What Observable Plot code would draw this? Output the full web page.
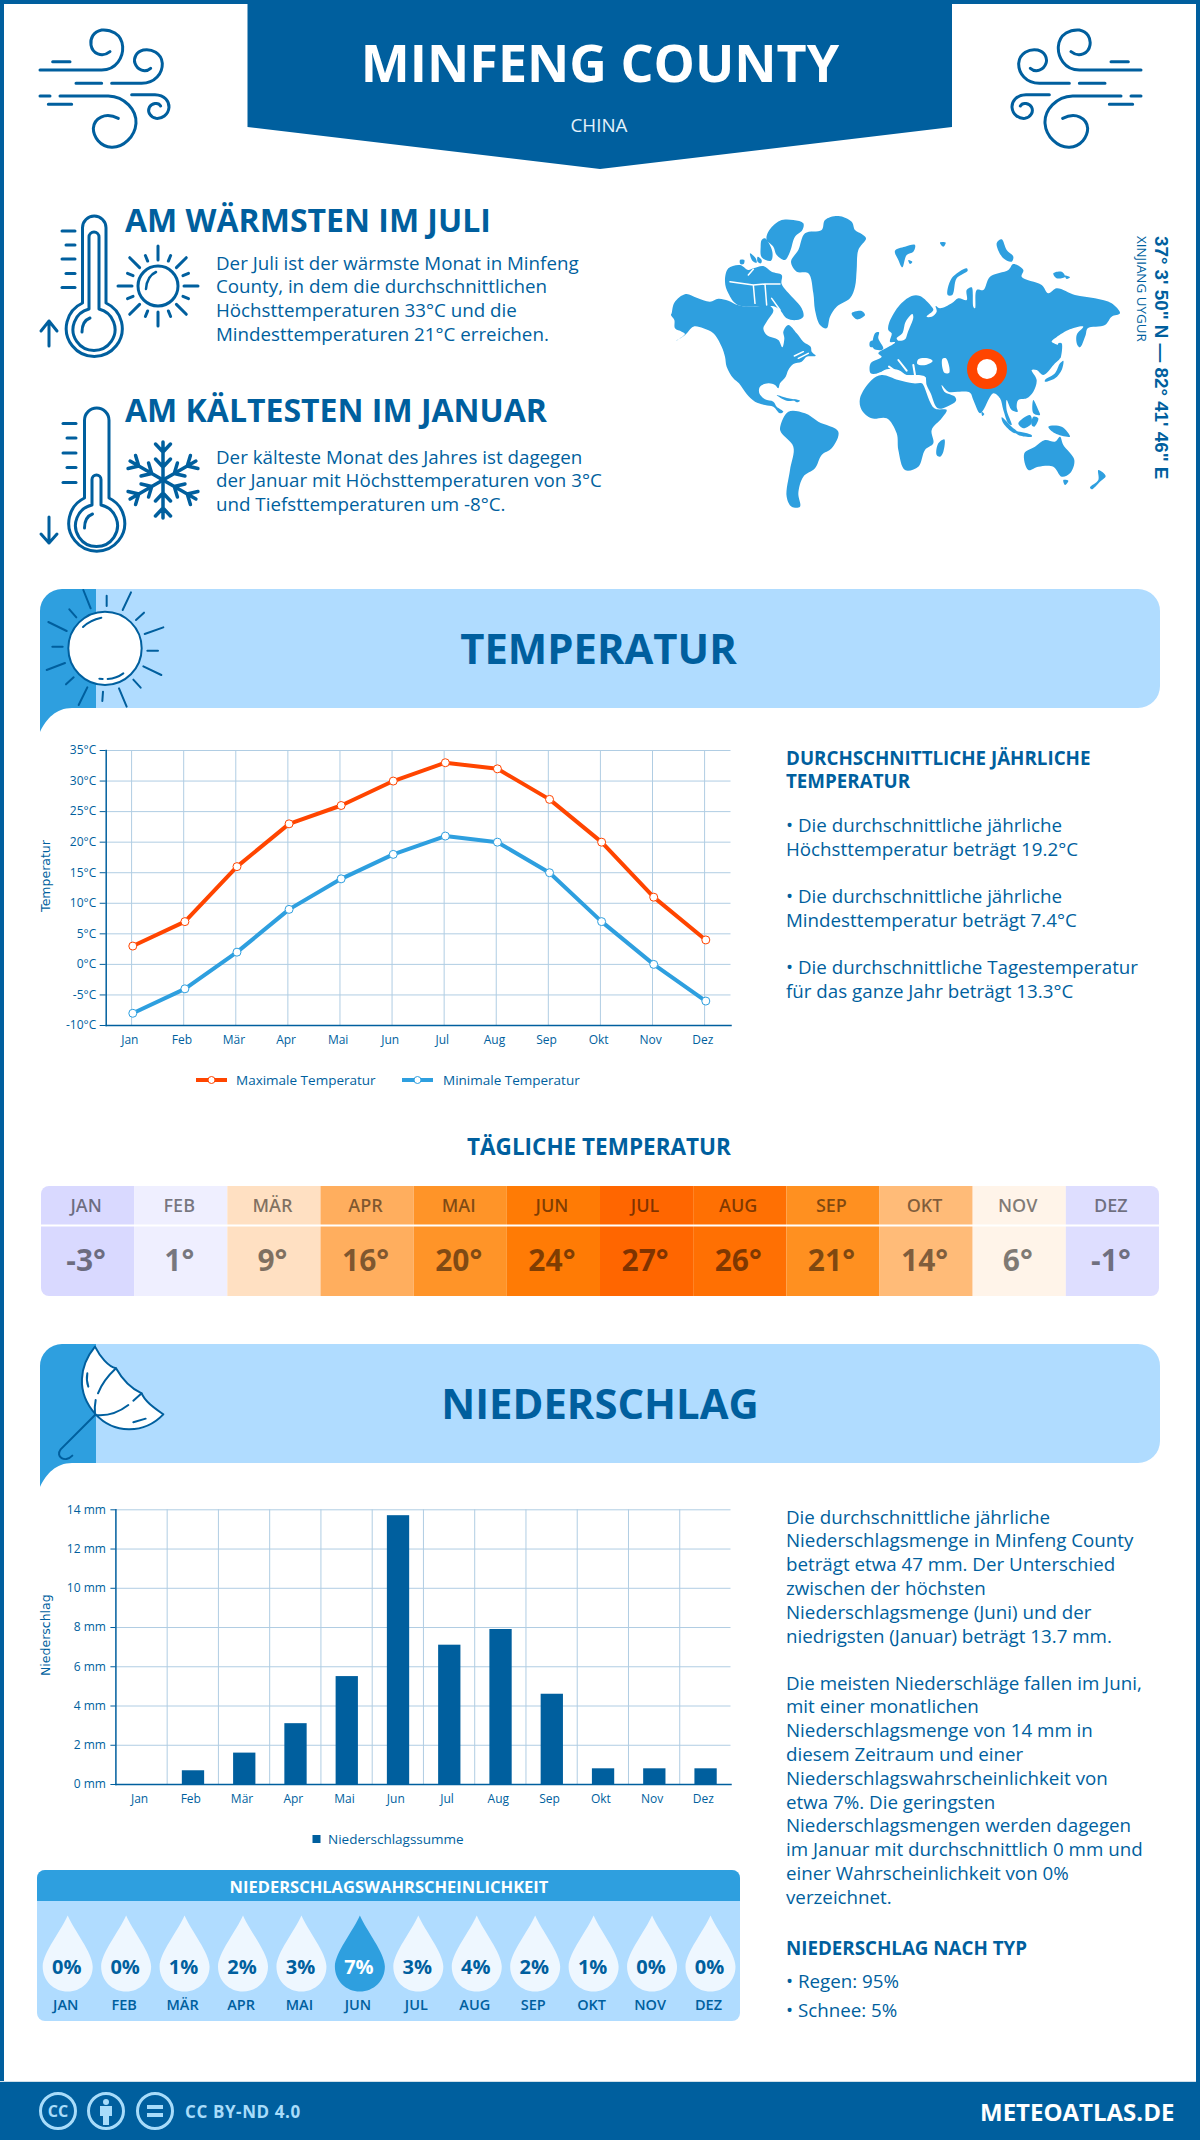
<!DOCTYPE html>
<html lang="de">
<head>
<meta charset="utf-8">
<title>Minfeng County</title>
<script src="https://cdn.jsdelivr.net/npm/d3@7"></script>
<script src="https://cdn.jsdelivr.net/npm/@observablehq/plot@0.6"></script>
<style>
html,body{margin:0;padding:0;background:#fff}
#page{position:relative;width:1200px;height:2140px;overflow:hidden;background:#fff;font-family:"Open Sans",sans-serif}
#page>svg,#page>div{position:absolute}
#deco{left:0;top:0;z-index:0}
.chart{z-index:1}
.chart svg{display:block;background:transparent;overflow:visible}
</style>
</head>
<body>
<div id="page"><svg id="deco" width="1200" height="2140" viewBox="0 0 1200 2140" xmlns="http://www.w3.org/2000/svg"></svg></div>
<script>
// ---- data ----
const months = ["Jan","Feb","Mär","Apr","Mai","Jun","Jul","Aug","Sep","Okt","Nov","Dez"];
const monthsUpper = ["JAN","FEB","MÄR","APR","MAI","JUN","JUL","AUG","SEP","OKT","NOV","DEZ"];
const tempMax = [3,7,16,23,26,30,33,32,27,20,11,4];
const tempMin = [-8,-4,2,9,14,18,21,20,15,7,0,-6];
const tempDaily = [-3,1,9,16,20,24,27,26,21,14,6,-1];
const tempDailyColors = ["#d9d9ff","#efefff","#ffe0c2","#ffae5e","#ff9428","#ff7b05","#ff6600","#ff7003","#ff9020","#ffbb78","#fff4e9","#dedeff"];
const precip = [0,0.7,1.6,3.1,5.5,13.7,7.1,7.9,4.6,0.8,0.8,0.8];
const precipProb = [0,0,1,2,3,7,3,4,2,1,0,0];
const tempTicks = [-10,-5,0,5,10,15,20,25,30,35];
const precipTicks = [0,2,4,6,8,10,12,14];

const warmText = ["Der Juli ist der wärmste Monat in Minfeng","County, in dem die durchschnittlichen","Höchsttemperaturen 33°C und die","Mindesttemperaturen 21°C erreichen."];
const coldText = ["Der kälteste Monat des Jahres ist dagegen","der Januar mit Höchsttemperaturen von 3°C","und Tiefsttemperaturen um -8°C."];
const tempHead = ["DURCHSCHNITTLICHE JÄHRLICHE","TEMPERATUR"];
const tempNotes = [["• Die durchschnittliche jährliche",824],["Höchsttemperatur beträgt 19.2°C",848],["• Die durchschnittliche jährliche",895],["Mindesttemperatur beträgt 7.4°C",919],["• Die durchschnittliche Tagestemperatur",966],["für das ganze Jahr beträgt 13.3°C",990]];
const rainText1 = ["Die durchschnittliche jährliche","Niederschlagsmenge in Minfeng County","beträgt etwa 47 mm. Der Unterschied","zwischen der höchsten","Niederschlagsmenge (Juni) und der","niedrigsten (Januar) beträgt 13.7 mm."];
const rainText2 = ["Die meisten Niederschläge fallen im Juni,","mit einer monatlichen","Niederschlagsmenge von 14 mm in","diesem Zeitraum und einer","Niederschlagswahrscheinlichkeit von","etwa 7%. Die geringsten","Niederschlagsmengen werden dagegen","im Januar mit durchschnittlich 0 mm und","einer Wahrscheinlichkeit von 0%","verzeichnet."];

const DARK="#005f9e", MID="#2e9fdf", LIGHT="#b0dcff", ORANGE="#ff4500", GRID="#b0cde3", FONT='"Open Sans",sans-serif';
const BODY=18.75;
const NS="http://www.w3.org/2000/svg";
const deco=document.getElementById("deco"), page=document.getElementById("page");

function el(tag,attrs,parent){const e=document.createElementNS(NS,tag);for(const k in attrs)e.setAttribute(k,attrs[k]);(parent||deco).appendChild(e);return e;}
function txt(s,x,y,size,weight,fill,opts={}){const e=el("text",Object.assign({x,y,"font-size":size,"font-weight":weight||400,fill:fill||DARK,"font-family":FONT,"dominant-baseline":"central"},opts));e.textContent=s;return e;}
function stroke(d,w,c,parent){return el("path",{d,fill:"none",stroke:c||DARK,"stroke-width":w,"stroke-linecap":"round","stroke-linejoin":"round"},parent);}
const smooth=d3.line().curve(d3.curveCatmullRomClosed.alpha(.5));
function poly(pts){const p=[];for(let i=0;i<pts.length;i+=2)p.push([pts[i],pts[i+1]]);return smooth(p);}

// ---- frame + header ----
el("rect",{x:2,y:2,width:1196,height:2136,fill:"none",stroke:DARK,"stroke-width":4});
el("path",{d:"M247.5,0H952V127L600,169L247.5,127Z",fill:DARK});
el("rect",{x:0,y:2082,width:1200,height:58,fill:DARK});
el("rect",{x:0,y:2081,width:1196,height:1,fill:"#cfdfe9"});
txt("MINFENG COUNTY",600,61,52,700,"#fff",{"text-anchor":"middle"});
txt("CHINA",599,124,18.75,400,"#e4f2fb",{"text-anchor":"middle"});

// wind icons
const windD="M30,150H215C260,150 280,110 278,80C275,40 240,28 215,30C190,35 180,55 183,75C187,100 215,115 240,95M68,125H120M138,190H215M245,190H335C375,190 398,160 397,130C395,100 365,85 340,90C318,95 310,115 315,130C322,150 345,160 362,145M30,228H60M90,228H235C285,230 320,270 318,310C315,350 280,383 245,382C210,380 190,350 190,325C192,295 225,275 265,295M55,253H125M305,224H375C405,225 418,245 417,262C415,285 395,297 378,295C360,292 352,275 358,262C365,250 385,245 392,258";
let g=el("g",{transform:"translate(30,20) scale(.3333)"}); stroke(windD,9,DARK,g);
g=el("g",{transform:"translate(1151,20) scale(-.3333,.3333)"}); stroke(windD,9,DARK,g);

// warm block
txt("AM WÄRMSTEN IM JULI",125,219,32,700);
warmText.forEach((s,i)=>txt(s,216,262+i*23.8,BODY,400));
txt("AM KÄLTESTEN IM JANUAR",125,409,32,700);
coldText.forEach((s,i)=>txt(s,216,456+i*23.7,BODY,400));

function thermometer(x1,x2,top,cx,cy,R,neckY,inner){
  const w=3;
  stroke(`M${x1},${neckY}V${top+(x2-x1)/2}A${(x2-x1)/2},${(x2-x1)/2} 0 0 1 ${x2},${top+(x2-x1)/2}V${neckY}A${R},${R} 0 1 1 ${x1},${neckY}Z`,w);
  const r2=R-7;
  const ix1=cx-inner.w/2, ix2=cx+inner.w/2;
  stroke(`M${ix1},${cy-r2+2}V${inner.top+inner.w/2}A${inner.w/2},${inner.w/2} 0 0 1 ${ix2},${inner.top+inner.w/2}V${cy-r2+2}A${r2},${r2} 0 1 1 ${ix1},${cy-r2+2}Z`,w);
  stroke(`M${cx-12},${cy+4}Q${cx-12},${cy-7} ${cx-4},${cy-10}`,w);
}
thermometer(82.5,106,216,94,328,28,303,{w:10,top:232});
[[231,62],[245,66],[259,62],[273.5,66],[287.5,62]].forEach(([y,x])=>stroke(`M${x},${y}H75`,3));
stroke("M49,346V321M41,331L49,321L57,331",3);
thermometer(84.5,109,408,96.5,524,28,498,{w:9,top:475});
[[423.5,63],[438,67],[453,63],[467.5,67],[482.5,63]].forEach(([y,x])=>stroke(`M${x},${y}H76`,3));
stroke("M49,517V543M41,534L49,543L57,534",3);

// small sun
el("circle",{cx:158,cy:286,r:20,fill:"none",stroke:DARK,"stroke-width":3});
stroke("M146,289Q147,276 156,272",2.5);
for(let i=0;i<16;i++){const a=i*Math.PI/8,long=i%2==0,r1=long?26:27,r2=long?40:33;
  stroke(`M${158+r1*Math.cos(a)},${286+r1*Math.sin(a)}L${158+r2*Math.cos(a)},${286+r2*Math.sin(a)}`,3);}
// snowflake
for(let i=0;i<6;i++){const a=i*Math.PI/3-Math.PI/2,c=Math.cos(a),s=Math.sin(a);
  const P=(t,o)=>`${163+t*c-o*s},${480+t*s+o*c}`;
  stroke(`M${P(0,0)}L${P(38,0)}M${P(28,0)}L${P(36,-7.5)}M${P(28,0)}L${P(36,7.5)}M${P(13,0)}L${P(21,-7.5)}M${P(13,0)}L${P(21,7.5)}`,3.5);}

// ---- world map (decorative outline) ----
const mapG=el("g",{transform:"translate(665,210) scale(.33333)",fill:MID});
const land=[
[20,310,28,278,62,252,95,263,135,275,160,266,190,272,218,285,250,290,285,288,300,280,325,300,305,335,295,355,305,375,340,390,352,412,358,385,355,365,370,345,395,370,415,395,437,410,440,425,452,437,425,440,410,455,385,462,370,480,362,500,345,520,340,535,330,525,310,520,285,530,283,550,300,568,325,575,335,590,355,605,345,610,325,590,300,585,270,575,245,552,222,520,205,505,185,470,180,440,170,410,145,370,115,355,85,350,60,375,32,393,60,372,50,365,30,355,28,330,18,315],
[310,65,345,32,385,30,415,40,412,60,390,80,375,125,360,150,335,135,325,110,305,90],
[290,90,300,85,322,125,318,152,290,142,287,110],
[180,215,190,175,225,165,250,180,265,175,295,168,320,185,350,195,350,222,385,265,410,295,415,320,395,330,365,325,345,300,330,290,218,285,190,250],
[255,130,272,145,275,158,262,152],[278,140,290,150,288,160,278,155],[225,150,238,150,236,162,226,162],
[378,155,400,120,420,70,470,60,480,30,520,18,560,35,570,60,590,72,603,85,580,120,575,180,570,230,555,265,515,290,495,320,485,355,465,345,450,300,445,250,430,190,395,185],
[560,310,590,303,600,315,575,328],
[690,122,720,110,750,105,745,125,725,135,712,172,700,150],[730,150,742,155,735,162],
[825,98,842,98,835,110],
[848,255,860,205,905,175,908,182,875,205,862,255],
[995,100,1010,88,1025,120,1045,140,1040,155,1015,145],
[1165,190,1190,185,1200,200,1175,205],[1200,197,1215,202,1205,207],
[630,370,642,367,640,385,655,415,650,420,625,415],[615,395,628,392,628,410,615,410],
[617,460,650,440,640,430,668,412,690,397,675,395,680,370,670,360,672,340,700,290,740,258,765,258,800,290,805,300,785,320,800,320,815,305,812,288,825,295,860,280,880,265,905,270,905,240,920,232,925,290,930,295,935,240,955,240,975,200,1030,180,1045,162,1075,180,1070,200,1130,225,1150,250,1175,235,1230,255,1290,265,1340,280,1365,310,1340,320,1320,345,1268,355,1262,375,1245,412,1237,405,1235,375,1255,350,1210,360,1170,385,1160,395,1185,410,1185,445,1170,460,1135,495,1115,480,1100,480,1115,510,1105,545,1085,565,1060,570,1055,590,1058,605,1040,600,1025,570,1025,600,1040,645,1030,640,1015,600,1005,565,985,550,955,600,945,610,925,570,915,548,880,545,850,545,830,525,838,545,870,560,873,572,845,590,818,595,797,550,785,525,780,500,750,495,725,495,700,480,665,478,640,490,617,490],
[585,565,620,510,650,495,700,510,745,520,770,520,775,525,808,595,845,600,830,625,800,660,805,700,780,720,760,770,720,780,700,720,695,670,665,625,620,625,590,600],
[815,735,820,700,838,688,835,725,825,740],
[345,655,370,605,420,610,460,635,520,665,500,715,470,735,450,775,415,800,400,850,405,890,380,890,365,860,375,780,385,710,350,670],
[335,555,370,565,395,570,365,572],[385,568,405,572,395,577],
[1140,510,1170,490,1185,460,1195,452,1190,480,1170,505,1140,515],[1180,400,1190,400,1186,445,1182,440],
[950,605,958,612,952,618],
[1010,622,1040,650,1060,668,1045,668,1015,640],[1050,665,1100,675,1100,680,1060,675],[1060,640,1095,615,1100,640,1075,655],[1105,620,1120,625,1108,650,1100,645],[1150,650,1190,650,1215,680,1170,670],[1105,570,1120,600,1125,615,1105,610],
[1078,730,1110,710,1140,690,1170,695,1185,680,1195,705,1228,750,1215,790,1190,800,1165,770,1120,770,1090,780],
[1195,810,1210,812,1200,825],[1300,780,1322,798,1305,815,1280,838,1275,832,1300,810]];
land.forEach(p=>el("path",{d:poly(p)},mapG));
const seas=[[760,448,788,445,803,453,782,465,757,462],[832,447,843,445,853,488,838,488],[742,312,745,322,728,368,720,388,700,392,695,385,712,370,722,335]];
seas.forEach(p=>el("path",{d:poly(p),fill:"#fff"},mapG));
stroke("M640,492L665,484L700,497L745,499L780,505M700,450L725,482M672,470L700,490M745,465L750,495",6,"#fff",mapG);
stroke("M195,215L265,225L300,222L345,222M265,225L270,280M300,222L305,285M320,265L345,300L340,320M250,195L265,178M388,438L415,425M400,445L430,430",4.5,"#fff",mapG);
el("circle",{cx:987,cy:369,r:15,fill:"#fff",stroke:ORANGE,"stroke-width":10});
txt("37° 3' 50\" N — 82° 41' 46\" E",0,0,18.8,700,DARK,{transform:"translate(1161,236) rotate(90)","font-family":'"Liberation Sans",sans-serif'});
txt("XINJIANG UYGUR",0,0,13.4,400,DARK,{transform:"translate(1142,236) rotate(90)"});

// ---- section banners ----
function banner(top,title,cx){
  el("path",{d:`M62,${top}H1138A22,22 0 0 1 1160,${top+22}V${top+97}A22,22 0 0 1 1138,${top+119}H96V${top}Z`,fill:LIGHT});
  el("path",{d:`M96,${top}H62A22,22 0 0 0 40,${top+22}V${top+143}C46,${top+130} 56,${top+119} 72,${top+119}H96Z`,fill:MID});
  txt(title,cx,top+58,41.8,700,DARK,{"text-anchor":"middle"});
}
banner(589,"TEMPERATUR",598.5);
banner(1344,"NIEDERSCHLAG",600);
// big sun
g=el("g",{transform:"translate(30,580) scale(.33333)"});
el("circle",{cx:225,cy:205,r:110,fill:"#fff",stroke:DARK,"stroke-width":6},g);
stroke("M159,141Q180,120 214,113M208,296L218,297M233,297Q260,295 280,280M160,30L182,85M230,47V78M303,37L278,90M342,98L318,120M400,142L344,162M384,212H352M394,285L340,259M332,323L310,299M290,380L267,325M217,363L219,335M146,375L172,322M108,313L131,292M50,270L105,249M67,200H98M110,153L55,126M118,88L139,112",6,DARK,g);
// umbrella
g=el("g",{transform:"translate(30,1335) scale(.33333)"});
el("path",{d:"M195,35C150,90 135,170 197,238C250,295 340,300 400,238C375,220 345,200 335,175C300,160 275,130 258,100C235,95 210,65 195,35Z",fill:"#fff",stroke:DARK,"stroke-width":6,"stroke-linejoin":"round"},g);
stroke("M258,100Q220,135 204,175M197,195Q193,215 195,238M335,175L310,197M295,210Q250,245 197,240M172,115Q168,135 175,155M310,262L347,251M195,240L92,343C75,365 105,385 127,362",6,DARK,g);

// ---- temperature chart headings / notes ----
tempHead.forEach((s,i)=>txt(s,786,757+i*23,BODY,700));
tempNotes.forEach(([s,y])=>txt(s,786,y,BODY,400));
txt("TÄGLICHE TEMPERATUR",599,1146,22.5,700,DARK,{"text-anchor":"middle"});

// legends
el("rect",{x:196,y:1078,width:31,height:4,fill:ORANGE});
el("circle",{cx:211.5,cy:1080,r:3.5,fill:"#fff",stroke:ORANGE,"stroke-width":1});
txt("Maximale Temperatur",236,1080,13.5,400);
el("rect",{x:402,y:1078,width:31,height:4,fill:MID});
el("circle",{cx:417.5,cy:1080,r:3.5,fill:"#fff",stroke:MID,"stroke-width":1});
txt("Minimale Temperatur",443,1080,13.5,400);
el("rect",{x:312.5,y:1835,width:8,height:8,fill:DARK});
txt("Niederschlagssumme",328,1839,13.5,400);

// ---- rain text ----
rainText1.forEach((s,i)=>txt(s,786,1516+i*23.8,BODY,400));
rainText2.forEach((s,i)=>txt(s,786,1682+i*23.8,BODY,400));
txt("NIEDERSCHLAG NACH TYP",786,1947,BODY,700);
txt("• Regen: 95%",786,1980,BODY,400);
txt("• Schnee: 5%",786,2009,BODY,400);

// ---- probability panel background ----
el("path",{d:"M45,1870H732A8,8 0 0 1 740,1878V2013A8,8 0 0 1 732,2021H45A8,8 0 0 1 37,2013V1878A8,8 0 0 1 45,1870Z",fill:LIGHT});
el("path",{d:"M45,1870H732A8,8 0 0 1 740,1878V1901H37V1878A8,8 0 0 1 45,1870Z",fill:MID});
txt("NIEDERSCHLAGSWAHRSCHEINLICHKEIT",389,1886,16.5,700,"#fff",{"text-anchor":"middle"});

// ---- footer ----
const CCC="#a8dcfa";
[58,106,155].forEach(x=>el("circle",{cx:x,cy:2111,r:17.5,fill:"none",stroke:CCC,"stroke-width":3}));
txt("CC",58,2111,16,700,CCC,{"text-anchor":"middle"});
el("circle",{cx:106,cy:2102,r:3,fill:CCC});
el("path",{d:"M100,2106H112V2116H109V2125H103V2116H100Z",fill:CCC});
el("rect",{x:147,y:2105,width:16,height:4,fill:CCC});
el("rect",{x:147,y:2113,width:16,height:4,fill:CCC});
txt("CC BY-ND 4.0",185,2111,17,700,CCC,{"letter-spacing":".6"});
txt("METEOATLAS.DE",980,2111,24,700,"#fff");

// ---- Plot charts ----
function mount(plot,left,top,style=""){const d=document.createElement("div");d.className="chart";d.style.cssText=`left:${left}px;top:${top}px;${style}`;d.appendChild(plot);page.appendChild(d);return d;}
const row=months.map((m,i)=>({m,i,tmax:tempMax[i],tmin:tempMin[i],daily:tempDaily[i],col:tempDailyColors[i],rain:precip[i],prob:precipProb[i],up:monthsUpper[i]}));
const baseStyle={fontFamily:FONT,background:"transparent",color:DARK,overflow:"visible"};

// temperature lines
mount(Plot.plot({
  width:760,height:340,marginLeft:105.7,marginRight:29.5,marginTop:20,marginBottom:45,style:baseStyle,
  x:{type:"point",domain:months,range:[132.3,705.3],padding:0,round:false,label:null},
  y:{domain:[-10,35],range:[295,20],label:null},
  marks:[
    Plot.ruleY(tempTicks,{y:d=>d,stroke:GRID,strokeWidth:1}),
    Plot.ruleX(months,{x:d=>d,dx:-1.2,stroke:GRID,strokeWidth:1,y1:-10,y2:35}),
    Plot.frame({anchor:"left",stroke:DARK,strokeWidth:1.5}),
    Plot.frame({anchor:"bottom",stroke:DARK,strokeWidth:1.5}),
    Plot.axisY({ticks:tempTicks,tickFormat:d=>d+"°C",tickSize:6,tickPadding:4,fontSize:12,stroke:DARK,fill:DARK,label:null,textStroke:"none"}),
    Plot.axisX({tickSize:0,tickPadding:10,fontSize:12,fill:DARK,dx:-3,label:null}),
    Plot.text(["Temperatur"],{text:d=>d,frameAnchor:"left",dx:-60,dy:-12,rotate:-90,fontSize:12.5,fontFamily:"DejaVu Sans",fill:DARK,letterSpacing:".8",textAnchor:"middle"}),
    Plot.line(row,{x:"m",y:"tmax",stroke:ORANGE,strokeWidth:4}),
    Plot.line(row,{x:"m",y:"tmin",stroke:MID,strokeWidth:4}),
    Plot.dot(row,{x:"m",y:"tmax",r:4,fill:"#fff",stroke:ORANGE,strokeWidth:1}),
    Plot.dot(row,{x:"m",y:"tmin",r:4,fill:"#fff",stroke:MID,strokeWidth:1})
  ]}),0,730);

// daily temperature cells
mount(Plot.plot({
  width:1118,height:110,margin:0,style:{...baseStyle,overflow:"hidden",borderRadius:"8px"},
  x:{domain:months,padding:0,round:false,axis:null},
  y:{type:"identity",axis:null},
  color:{type:"identity"},
  marks:[
    Plot.cell(row,{x:"m",fill:"col"}),
    Plot.ruleY([39],{stroke:"#fff",strokeWidth:2}),
    Plot.text(row,{x:"m",y:()=>20,text:"up",fontSize:18,fontWeight:600,fill:"#000",fillOpacity:.5,dx:-2}),
    Plot.text(row,{x:"m",y:()=>75,text:d=>d.daily+"°",fontSize:30,fontWeight:700,fill:"#000",fillOpacity:.5,dx:-2})
  ]}),41,1186);

// precipitation bars
const step=(730.5-115.4)/12;
mount(Plot.plot({
  width:760,height:340,marginLeft:115.4,marginRight:29.5,marginTop:19.3,marginBottom:46,style:baseStyle,
  x:{type:"band",domain:months,paddingInner:.565,paddingOuter:.2825,round:false,label:null},
  y:{domain:[0,14],range:[294,19.3],label:null},
  marks:[
    Plot.ruleY(precipTicks,{y:d=>d,stroke:GRID,strokeWidth:1}),
    Plot.ruleX(months.slice(1),{x:d=>d,dx:-step/2,stroke:GRID,strokeWidth:1}),
    Plot.barY(row,{x:"m",y:"rain",fill:DARK,dx:.7}),
    Plot.frame({anchor:"left",stroke:DARK,strokeWidth:1.5}),
    Plot.frame({anchor:"bottom",stroke:DARK,strokeWidth:1.5}),
    Plot.axisY({ticks:precipTicks,tickFormat:d=>d+" mm",tickSize:5,tickPadding:5,fontSize:12,stroke:DARK,fill:DARK,label:null,textStroke:"none"}),
    Plot.axisX({tickSize:0,tickPadding:10,fontSize:12,fill:DARK,dx:-2,label:null}),
    Plot.text(["Niederschlag"],{text:d=>d,frameAnchor:"left",dx:-69.5,dy:-12,rotate:-90,fontSize:12.5,fontFamily:"DejaVu Sans",fill:DARK,letterSpacing:".8",textAnchor:"middle"})
  ]}),0,1490);

// probability drops
const dropSymbol={draw(ctx,size){
  const r=Math.sqrt(size/Math.PI);
  ctx.moveTo(0,-2.04*r);
  ctx.bezierCurveTo(.25*r,-1.45*r,r,-.55*r,r,0);
  ctx.bezierCurveTo(r,.58*r,.55*r,r,0,r);
  ctx.bezierCurveTo(-.55*r,r,-r,.58*r,-r,0);
  ctx.bezierCurveTo(-r,-.55*r,-.25*r,-1.45*r,0,-2.04*r);
  ctx.closePath();
}};
mount(Plot.plot({
  width:703,height:120,margin:0,style:baseStyle,
  x:{type:"point",domain:months,range:[30.2,673],padding:0,round:false,axis:null},
  y:{type:"identity",axis:null},
  color:{type:"identity"},
  marks:[
    Plot.dot(row,{x:"m",y:()=>65,r:25,symbol:dropSymbol,fill:d=>d.prob===7?MID:"#eef7ff",stroke:"none"}),
    Plot.text(row,{x:"m",y:()=>66,text:d=>d.prob+"%",fontSize:20,fontWeight:700,fill:d=>d.prob===7?"#fff":DARK,dx:-1}),
    Plot.text(row,{x:"m",y:()=>104,text:"up",fontSize:14.5,fontWeight:600,fill:DARK,dx:-2})
  ]}),37,1901);
</script>
</body>
</html>
